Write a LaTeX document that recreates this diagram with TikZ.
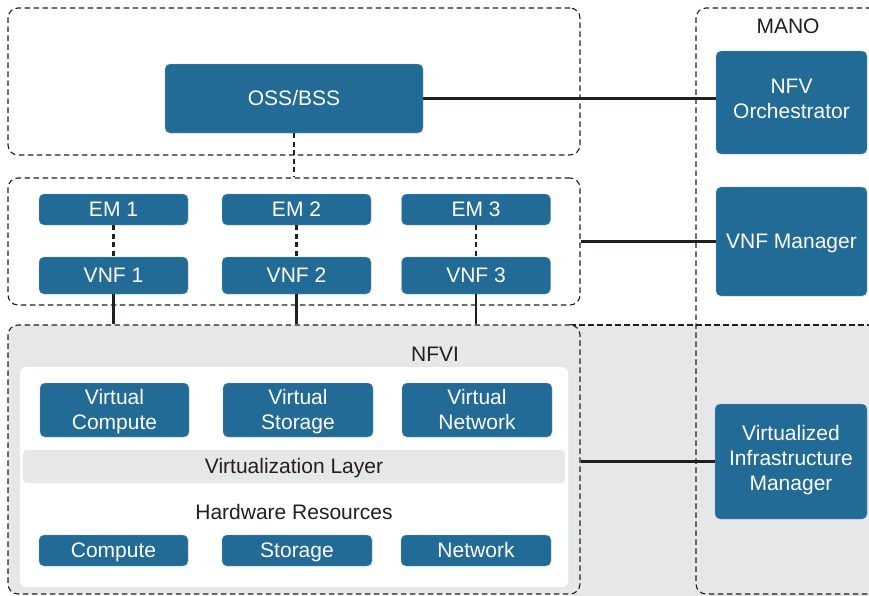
\documentclass[tikz,border=0pt]{standalone}
\usepackage{fontspec}
\setmainfont{Liberation Sans}
\definecolor{nblue}{HTML}{236B97}
\definecolor{ngray}{HTML}{E6E7E9}
\definecolor{nline}{HTML}{231F20}
\newcommand{\capstrut}{\rule[-1pt]{0pt}{16pt}}
\begin{document}
\begin{tikzpicture}[x=1pt,y=-1pt,
  bbox/.style={draw=nblue!60!white, line width=0.4pt, fill=nblue, rounded corners=5pt, text=white, align=center, inner sep=0pt, font=\fontsize{21}{25}\selectfont, execute at begin node=\capstrut, text depth=1pt},
  dbox/.style={draw=nline, line width=1.1pt, dash pattern=on 5.5pt off 3.5pt, rounded corners=10pt, inner sep=0pt},
  conn/.style={draw=nline, line width=2.4pt},
  dconn/.style={draw=nline, line width=2.8pt, dash pattern=on 5pt off 3.5pt},
  lbl/.style={text=nline, font=\fontsize{21}{25}\selectfont, inner sep=0pt, execute at begin node=\capstrut, text depth=1pt}]
\useasboundingbox (0,0) rectangle (869,595);
\begin{scope}
\clip (0,0) rectangle (869,595);
% gray band
\fill[ngray] (570,325) rectangle (875,600);
\draw[draw=nline, line width=1.1pt, dash pattern=on 5.5pt off 3.5pt] (570,325) -- (875,325);
% containers
\node[dbox, minimum width=572pt, minimum height=147pt] (top) at (294,81.5) {};
\node[dbox, minimum width=572pt, minimum height=127pt] (mid) at (294,241.5) {};
\node[dbox, fill=ngray, minimum width=572pt, minimum height=269pt] (nfvi) at (294,459.5) {};
\node[dbox, minimum width=194pt, minimum height=586pt] (mano) at (793,301) {};
\end{scope}
% inner white area
\fill[white, rounded corners=6pt] (20,367) rectangle (568,587);
\fill[ngray, rounded corners=4pt] (23,450) rectangle (565,483);
\node[lbl] (vl) at (294,466.5) {Virtualization Layer};
\node[lbl] (hw) at (294,512.5) {Hardware Resources};
\node[lbl] (nfvil) at (435,354.5) {NFVI};
\node[lbl] (manol) at (788,26.5) {MANO};
% OSS
\node[bbox, minimum width=258pt, minimum height=69pt] (oss) at (294,98.5) {OSS/BSS};
% EMs and VNFs
\foreach \i/\x in {1/113.5,2/296.5,3/476}{
  \node[bbox, minimum width=149pt, minimum height=31pt] (em\i) at (\x,209.5) {EM \i};
  \node[bbox, minimum width=149pt, minimum height=37pt] (vnf\i) at (\x,275.5) {VNF \i};
}
% MANO blocks
\node[bbox, text depth=8pt, minimum width=151pt, minimum height=103pt] (nfvo) at (791.5,102.5) {NFV\\Orchestrator};
\node[bbox, minimum width=151pt, minimum height=109pt] (vnfm) at (791.5,241.5) {VNF Manager};
\node[bbox, text depth=7pt, minimum width=152pt, minimum height=115pt] (vim) at (791,461.5) {Virtualized\\Infrastructure\\Manager};
% virtual resources
\node[bbox, minimum width=149pt, minimum height=54pt] (vc) at (114.5,410) {Virtual\\Compute};
\node[bbox, minimum width=150pt, minimum height=54pt] (vs) at (298,410) {Virtual\\Storage};
\node[bbox, minimum width=150pt, minimum height=54pt] (vn) at (477,410) {Virtual\\Network};
% hardware
\node[bbox, minimum width=149pt, minimum height=31pt] (hc) at (113.5,550.5) {Compute};
\node[bbox, minimum width=150pt, minimum height=31pt] (hs) at (297,550.5) {Storage};
\node[bbox, minimum width=150pt, minimum height=31pt] (hn) at (476,550.5) {Network};
% connectors
\draw[conn] (oss.east) -- (oss.east -| nfvo.west);
\draw[dconn] (oss.south) -- (oss.south |- mid.north);
\foreach \i in {1,2,3}{
  \draw[dconn] (em\i.south) -- (vnf\i.north);
  \draw[conn] (vnf\i.south) -- (vnf\i.south |- nfvi.north);
}
\draw[conn] (mid.east) -- (mid.east -| vnfm.west);
\draw[conn] (vim.west -| nfvi.east) -- (vim.west);
\end{tikzpicture}
\end{document}
